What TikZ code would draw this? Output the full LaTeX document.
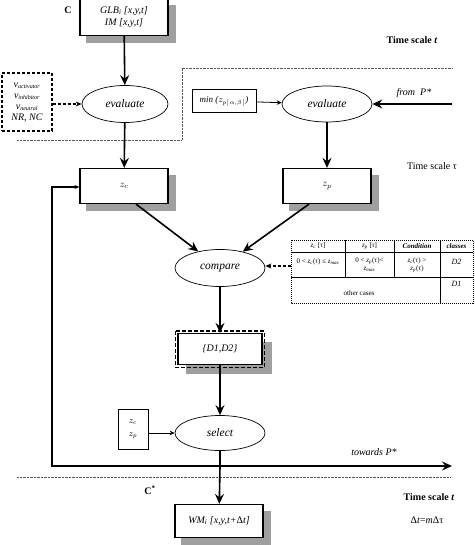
\documentclass[tikz,border=0pt]{standalone}
\usepackage{fontspec}
\setmainfont{Liberation Serif}
\usetikzlibrary{shapes.geometric,arrows.meta,backgrounds}
\begin{document}
\begin{tikzpicture}[x=1pt,y=-1pt,
 box/.style={draw,line width=1.2pt,fill=white,minimum width=88pt,minimum height=35pt,inner sep=1pt,font=\itshape\fontsize{10}{12}\selectfont},
 oval/.style={draw,ellipse,fill=white,line width=0.7pt,minimum width=88pt,minimum height=36pt,inner sep=0pt,font=\itshape\fontsize{11.5}{13}\selectfont},
 arr/.style={line width=1.6pt,-{Stealth[length=10pt,width=9pt,inset=3.5pt]}},
 thinarr/.style={line width=0.8pt,-{Stealth[length=5pt,width=4.5pt]}},
 dasharr/.style={line width=1.2pt,dash pattern=on 3pt off 2pt,-{Stealth[length=6pt,width=5pt]}},
 dotline/.style={line width=0.9pt,dash pattern=on 0.8pt off 0.6pt,gray!70!black},
 shadowfill/.style={fill=gray!75},
 lbl/.style={font=\fontsize{10}{12}\selectfont,inner sep=0pt},
 tb/.style={font=\fontsize{7}{8}\selectfont,inner sep=0pt,align=center}]
\useasboundingbox (0,0) rectangle (474,545);

% dotted separators
\draw[dotline] (17,140) -- (182,140) -- (182,68) -- (452,68);
\draw[dotline] (17,477) -- (450,477);

% top box
\node[box,minimum height=37pt,align=center] (glb) at (124,17) {GLB\textsubscript{\itshape i} [\textit{x,y,t}]\\IM [\textit{x,y,t}]};
\node[lbl,font=\bfseries\fontsize{10}{12}\selectfont] (C) at (68,10) {C};
\node[lbl,font=\bfseries\fontsize{10}{12}\selectfont] (ts1) at (412,40) {Time scale \textit{t}};

% left dashed box
\node[draw,line width=1.2pt,dash pattern=on 3pt off 2pt,minimum width=50pt,minimum height=58pt,inner sep=1pt,align=center,font=\itshape\fontsize{10}{11}\selectfont] (vbox) at (27,102)
 {v\textsubscript{\fontsize{6}{7}\selectfont activator}\\v\textsubscript{\fontsize{6}{7}\selectfont inhibitor}\\v\textsubscript{\fontsize{6}{7}\selectfont neutral}\\NR, NC};

% evaluate ellipses
\node[oval,minimum width=86pt,minimum height=37pt] (ev1) at (125,104) {evaluate};
\node[oval,minimum width=90pt,minimum height=36pt] (ev2) at (327,104) {evaluate};
\node[draw,line width=1pt,minimum width=64pt,minimum height=23pt,inner sep=1pt,font=\itshape\fontsize{9}{11}\selectfont] (min) at (224,101) {min ($z_{p[\,\alpha,\beta\,]}$)};
\coordinate (fromP) at (452,104);
\node[lbl,font=\itshape\fontsize{10}{12}\selectfont] (fromPl) at (414,93) {from\ \ P*};

\draw[arr] (glb) -- (ev1);
\draw[dasharr] (vbox.east |- ev1) -- (ev1);
\draw[thinarr] (min) -- (ev2);
\draw[arr] (fromP) -- (ev2);

% z boxes
\node[box] (zc) at (124,186) {$z_c$};
\node[box] (zp) at (327,186) {$z_p$};
\node[lbl,font=\fontsize{10}{12}\selectfont] (ts2) at (432,166) {Time scale \textup{τ}};
\draw[arr] (ev1) -- (zc);
\draw[arr] (ev2) -- (zp);

% compare
\node[oval,minimum width=90pt,minimum height=37pt] (cmp) at (220,268) {compare};
\draw[arr] ([xshift=12pt]zc.south) -- (cmp);
\draw[arr] ([xshift=-18pt]zp.south) -- (cmp);

% table
\draw[line width=0.9pt,dash pattern=on 1pt off 1pt] (291,240) rectangle (473,303);
\draw[line width=0.6pt] (291,252) -- (473,252) (291,277) -- (473,277);
\draw[line width=0.6pt] (345,240) -- (345,277) (394,240) -- (394,277) (440,240) -- (440,303);
\node[tb] (h1) at (318,246) {\textit{z\textsubscript{c}} [\textup{τ}]};
\node[tb] (h2) at (369.5,246) {\textit{z\textsubscript{p}} [\textup{τ}]};
\node[tb,font=\bfseries\itshape\fontsize{7}{8}\selectfont] (h3) at (417,246) {Condition};
\node[tb,font=\bfseries\itshape\fontsize{7}{8}\selectfont] (h4) at (456.5,246) {classes};
\node[tb] (c1) at (318,262) {0 < \textit{z\textsubscript{c}}(\textup{τ}) ≤ \textit{z\textsubscript{max}}};
\node[tb] (c2) at (369.5,265) {0 < \textit{z\textsubscript{p}}(\textup{τ})<\\\textit{z\textsubscript{max}}};
\node[tb] (c3) at (417,265) {\textit{z\textsubscript{c}}(\textup{τ}) >\\\textit{z\textsubscript{p}}(\textup{τ})};
\node[tb,font=\itshape\fontsize{8}{9}\selectfont] (c4) at (456.5,262) {D2};
\node[tb] (c5) at (359,293) {other cases};
\node[tb,font=\itshape\fontsize{8}{9}\selectfont] (c6) at (456.5,284) {D1};
\coordinate (tabL) at (291,266);
\draw[dasharr] (tabL) -- (cmp.east |- tabL);

% D1,D2
\node[box,minimum width=84pt,minimum height=31pt] (dd) at (220,349) {\{D1,D2\}};
\draw[line width=1.2pt,dash pattern=on 4pt off 2pt] ([shift={(-2,-2)}]dd.north west) rectangle ([shift={(2,2)}]dd.south east);
\draw[arr] (cmp) -- (dd);

% select
\node[oval,minimum width=90pt,minimum height=35pt] (sel) at (220,433) {select};
\draw[arr] (dd) -- (sel);
\node[draw,line width=0.6pt,minimum width=30pt,minimum height=40pt,inner sep=1pt,align=center,font=\fontsize{9}{13}\selectfont] (zz) at (133,429) {$z_c$\\$z_p$};
\draw[thinarr] (zz.east |- sel) -- (sel);

% feedback
\coordinate (fb) at (220,466);
\coordinate (fbL) at (52,466);
\coordinate (fbU) at (52,187);
\coordinate (towP) at (452,466);
\draw[line width=1.3pt] (sel.south) -- (fb);
\draw[line width=1.3pt,-{Stealth[length=5pt,width=4pt]}] (fb) -- (fbL) -- (fbU) -- (zc.west |- fbU);
\draw[arr] (fb) -- (towP);
\node[lbl,font=\itshape\fontsize{10}{12}\selectfont] (towPl) at (374,452) {towards P*};

% bottom
\node[lbl,font=\bfseries\fontsize{10}{12}\selectfont] (Cs) at (150,490) {C\textsuperscript{*}};
\node[box,minimum height=33pt] (wm) at (219,521) {WM\textsubscript{\itshape i} [\textit{x,y,t}+\textup{Δ}\textit{t}]};
\draw[arr] (fb) -- (wm);
\node[lbl,font=\bfseries\fontsize{10}{12}\selectfont] (ts3) at (429,497) {Time scale \textit{t}};
\node[lbl,font=\fontsize{10}{12}\selectfont] (dt) at (427,520) {Δ\textit{t}=\textit{m}Δ\textup{τ}};

% shadows
\begin{scope}[on background layer]
\foreach \n in {glb,zc,zp,wm}
  \fill[shadowfill] ([shift={(7,7)}]\n.north west) rectangle ([shift={(7,7)}]\n.south east);
\fill[shadowfill] ([shift={(9,9)}]dd.north west) rectangle ([shift={(9,9)}]dd.south east);
\end{scope}
\end{tikzpicture}
\end{document}
